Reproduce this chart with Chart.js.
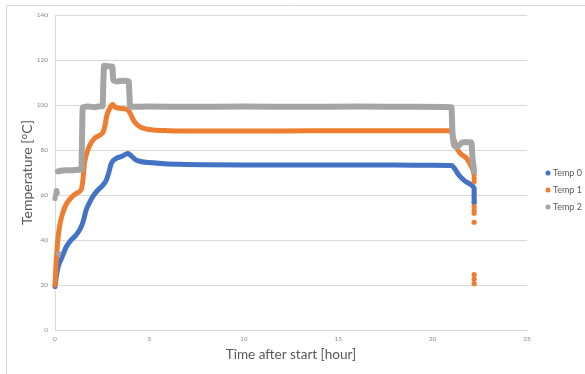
<!DOCTYPE html>
<html>
<head>
<meta charset="utf-8">
<script src="https://cdn.jsdelivr.net/npm/chart.js@4/dist/chart.umd.min.js"></script>
<style>
  html, body { margin: 0; padding: 0; background: #ffffff; }
  #wrap { width: 585px; height: 374px; position: relative; }
</style>
</head>
<body>
<div id="wrap"><canvas id="c" width="585" height="374"></canvas></div>
<script>
// Series names and colours
const seriesNames = ['Temp 0', 'Temp 1', 'Temp 2'];
const seriesColors = ['#4472C4', '#ED7D31', '#A5A5A5'];

// Axis ticks
const xTicks = [0, 5, 10, 15, 20, 25];
const yTicks = [0, 20, 40, 60, 80, 100, 120, 140];

// Temp 0 readings (hours, °C)
const temp0Hours = [0, 0.08, 0.18, 0.33, 0.6, 0.85, 1.12, 1.39, 1.5, 1.65, 1.82, 2.0, 2.25, 2.54, 2.72, 2.85, 2.98, 3.25, 3.55, 3.86, 4.05, 4.3, 4.6, 5.0, 5.8, 6.8, 8, 10, 12, 14, 16, 18, 20, 21.0, 21.2, 21.4, 21.7, 21.95, 22.1, 22.2];
const temp0Values = [19.3, 24.5, 28.5, 31.5, 37, 40, 42.2, 45.9, 48.5, 53.3, 56.5, 59.3, 62, 64.4, 66.7, 70, 74, 76.3, 77.2, 78.5, 77.3, 75.5, 74.8, 74.4, 73.9, 73.6, 73.4, 73.3, 73.3, 73.3, 73.3, 73.3, 73.2, 73.1, 71.3, 68.8, 66.3, 65, 64.2, 63];
// Temp 0 last readings while the heater shuts down
const temp0DropHours = [22.2, 22.2, 22.2, 22.2, 22.2, 22.2];
const temp0DropValues = [61.8, 60.6, 59.4, 58.2, 57.2, 56.4];

// Temp 1 readings
const temp1Hours = [0, 0.06, 0.15, 0.24, 0.41, 0.6, 0.77, 1.12, 1.39, 1.47, 1.56, 1.74, 1.9, 2.1, 2.35, 2.55, 2.65, 2.75, 2.9, 3.05, 3.2, 3.45, 3.85, 4.0, 4.15, 4.35, 4.55, 4.8, 5.2, 6, 7, 9, 12, 15, 18, 20, 20.95, 21.1, 21.25, 21.45, 21.8, 22.0, 22.12, 22.2];
const temp1Values = [20, 30, 40, 46, 52, 56, 58, 60.7, 62.5, 66, 74, 80, 83, 85.2, 86.5, 88, 91, 95.5, 98.5, 100.2, 99, 98.5, 97.8, 96, 93.3, 91.2, 90.1, 89.4, 88.9, 88.6, 88.5, 88.5, 88.5, 88.6, 88.6, 88.6, 88.6, 85.5, 81.5, 78.6, 76.3, 73.5, 71.5, 69];
const temp1DropHours = [22.2, 22.2, 22.2, 22.2, 22.2, 22.2, 22.2, 22.2, 22.2];
const temp1DropValues = [67.5, 66, 54.8, 53.3, 51.9, 47.9, 24.6, 22.6, 20.6];

// Temp 2 readings
const temp2Hours = [0.15, 0.3, 0.6, 0.9, 1.2, 1.4, 1.43, 1.47, 1.8, 2.1, 2.4, 2.52, 2.56, 2.6, 2.8, 3.04, 3.08, 3.3, 3.6, 3.9, 3.94, 3.98, 5, 7, 10, 13, 16, 19, 21.0, 21.05, 21.15, 21.3, 21.6, 21.9, 22.05, 22.12, 22.2];
const temp2Values = [70.5, 70.8, 71, 71, 71.2, 71.3, 85, 99, 99.3, 99, 99.5, 99.5, 110, 117.5, 117.2, 117, 111, 110.5, 110.8, 110.5, 105, 99.2, 99.3, 99.2, 99.3, 99.2, 99.3, 99.2, 99, 88, 82, 81.5, 83.5, 83.5, 83.3, 76, 70.5];
// Temp 2 first readings before the sensor settled
const temp2StartHours = [0, 0.03, 0.06, 0.09, 0.12, 0.2];
const temp2StartValues = [58.5, 60, 61.5, 62, 61, 34];

const toPoints = (xs, ys) => xs.map((x, i) => ({ x: x, y: ys[i] }));

const lineSets = [
  { hours: temp0Hours, values: temp0Values, width: 5, order: 3 },
  { hours: temp1Hours, values: temp1Values, width: 5, order: 2 },
  { hours: temp2Hours, values: temp2Values, width: 6, order: 1 }
];
const dotSets = [
  { hours: temp0DropHours, values: temp0DropValues, order: 3 },
  { hours: temp1DropHours, values: temp1DropValues, order: 2 },
  { hours: temp2StartHours, values: temp2StartValues, order: 1 }
];

const datasets = [];
lineSets.forEach((s, i) => {
  datasets.push({
    label: seriesNames[i],
    data: toPoints(s.hours, s.values),
    showLine: true,
    borderColor: seriesColors[i],
    backgroundColor: seriesColors[i],
    borderWidth: s.width,
    borderCapStyle: 'round',
    pointRadius: 0,
    cubicInterpolationMode: 'monotone',
    clip: false,
    order: s.order
  });
});
dotSets.forEach((s, i) => {
  datasets.push({
    label: seriesNames[i],
    data: toPoints(s.hours, s.values),
    showLine: false,
    borderColor: seriesColors[i],
    backgroundColor: seriesColors[i],
    pointRadius: 2.6,
    pointBorderWidth: 0,
    clip: false,
    order: s.order
  });
});

// Thin frame around the chart object
const framePlugin = {
  id: 'frame',
  beforeDraw(chart) {
    const ctx = chart.ctx;
    ctx.save();
    ctx.fillStyle = '#ffffff';
    ctx.fillRect(0, 0, chart.width, chart.height);
    ctx.strokeStyle = '#d9d9d9';
    ctx.lineWidth = 1;
    ctx.beginPath();
    ctx.moveTo(6.5, chart.height);
    ctx.lineTo(6.5, 5.5);
    ctx.lineTo(chart.width, 5.5);
    ctx.stroke();
    ctx.restore();
  }
};

// Legend column to the right of the plot
const legendPlugin = {
  id: 'sideLegend',
  afterDraw(chart) {
    const ctx = chart.ctx;
    const x0 = chart.chartArea.right + 21;
    ctx.save();
    ctx.font = '9px Lato, "Open Sans", sans-serif';
    ctx.textBaseline = 'middle';
    ctx.textAlign = 'left';
    seriesNames.forEach((name, i) => {
      const y = 173 + i * 17;
      ctx.fillStyle = seriesColors[i];
      ctx.beginPath();
      ctx.arc(x0, y, 2.5, 0, Math.PI * 2);
      ctx.fill();
      ctx.fillStyle = '#595959';
      ctx.fillText(name, x0 + 5, y + 0.5);
    });
    ctx.restore();
  }
};

new Chart(document.getElementById('c'), {
  type: 'scatter',
  data: { datasets: datasets },
  plugins: [framePlugin, legendPlugin],
  options: {
    responsive: false,
    animation: false,
    devicePixelRatio: 1,
    layout: { padding: { left: 15, top: 15, right: 58, bottom: 8 } },
    plugins: {
      legend: { display: false },
      tooltip: { enabled: false }
    },
    scales: {
      x: {
        type: 'linear',
        min: xTicks[0],
        max: xTicks[xTicks.length - 1],
        afterBuildTicks(scale) { scale.ticks = xTicks.map(v => ({ value: v })); },
        afterFit(scale) { scale.height = 36; },
        grid: { display: false, drawTicks: false },
        border: { display: true, color: '#d9d9d9', width: 1 },
        ticks: {
          padding: 5,
          color: '#8a8a8a',
          font: { family: 'Lato, "Open Sans", sans-serif', size: 6.5 },
          maxRotation: 0
        },
        title: {
          display: true,
          text: 'Time after start [hour]',
          color: '#595959',
          font: { family: 'Lato, "Open Sans", sans-serif', size: 13.5 },
          padding: { top: 0, bottom: 3 }
        }
      },
      y: {
        type: 'linear',
        min: yTicks[0],
        max: yTicks[yTicks.length - 1],
        afterBuildTicks(scale) { scale.ticks = yTicks.map(v => ({ value: v })); },
        afterFit(scale) { scale.width = 40; },
        grid: { color: '#d9d9d9', lineWidth: 1, drawTicks: false },
        border: { display: true, color: '#d9d9d9', width: 1 },
        ticks: {
          padding: 7,
          color: '#8a8a8a',
          font: { family: 'Lato, "Open Sans", sans-serif', size: 6.5 }
        },
        title: {
          display: true,
          text: 'Temperature [°C]',
          color: '#595959',
          font: { family: 'Lato, "Open Sans", sans-serif', size: 14 },
          padding: { top: 4, bottom: 0 }
        }
      }
    }
  }
});
</script>
</body>
</html>
